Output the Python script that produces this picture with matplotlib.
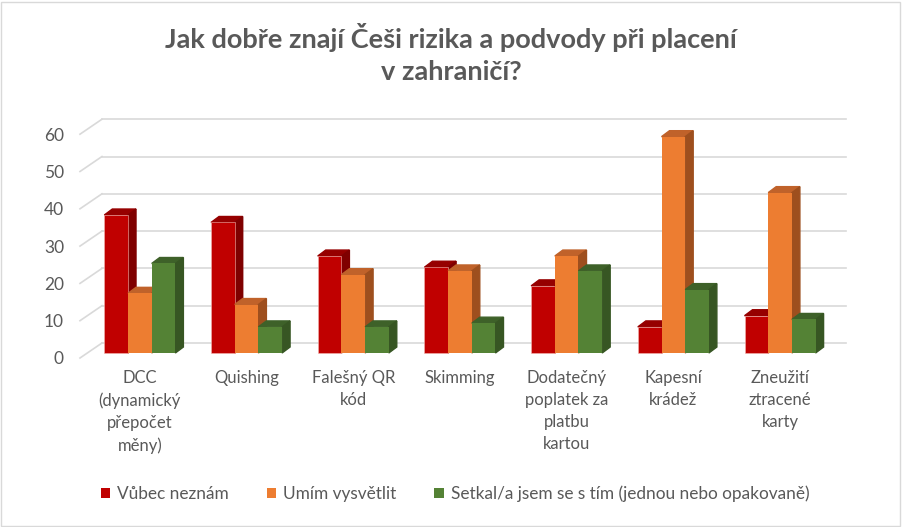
import matplotlib.pyplot as plt
from matplotlib.patches import Polygon, Patch, Rectangle

categories = ["DCC\n(dynamický\npřepočet\nměny)", "Quishing", "Falešný QR\nkód", "Skimming",
              "Dodatečný\npoplatek za\nplatbu\nkartou", "Kapesní\nkrádež", "Zneužití\nztracené\nkarty"]
series_names = ["Vůbec neznám", "Umím vysvětlit",
                "Setkal/a jsem se s tím (jednou nebo opakovaně)"]
vubec = [37, 35, 26, 23, 18, 7, 10]
umim = [16, 13, 21, 22, 26, 58, 43]
setkal = [24, 7, 7, 8, 22, 17, 9]
yticks = [0, 10, 20, 30, 40, 50, 60]
title = "Jak dobře znají Češi rizika a podvody při placení\nv zahraničí?"

front_c = ["#C00000", "#ED7D31", "#548235"]
top_c = ["#960000", "#C0622A", "#3E6129"]
side_c = ["#7F0000", "#9E4F1E", "#375623"]

plt.rcParams['font.family'] = ['Lato', 'DejaVu Sans']
txt_col = "#595959"

fig = plt.figure(figsize=(9.02, 5.27), dpi=100)
ax = fig.add_axes([86.5 / 902, (527 - 353) / 527, 746.9 / 902, 223.8 / 527])
ax.set_xlim(0, 7)
ax.set_ylim(0, 60)
ax.axis('off')

# fake 3d offsets (data units)
bx, by = 0.145, 2.68     # back wall
fx, fy = -0.061, -1.34   # front floor edge
ddx, ddy = 0.075, 1.6    # bar depth
w = 0.222

for v in yticks:
    ax.plot([fx, bx], [v + fy, v + by], color="#D9D9D9", lw=1.2, clip_on=False, zorder=1)
    ax.plot([bx, 7.118], [v + by, v + by], color="#D9D9D9", lw=1.2, clip_on=False, zorder=1)
    ax.text(fx - 0.15, v + fy, str(v), ha='right', va='center_baseline', fontsize=12.5, color=txt_col)

series = [vubec, umim, setkal]
for i in range(len(categories)):
    for k, vals in enumerate(series):
        x0 = i + 0.5 + (k - 1.5) * w
        h = vals[i]
        z = 10 + i * 10 + k * 3
        ax.bar(x0, h, width=w, align='edge', color=front_c[k], edgecolor="#F4B6B0" if k == 0 else "none",
               linewidth=0.4, zorder=z + 2, clip_on=False)
        ax.add_patch(Polygon([(x0, h), (x0 + w, h), (x0 + w + ddx, h + ddy), (x0 + ddx, h + ddy)],
                             closed=True, color=top_c[k], zorder=z, clip_on=False))
        ax.add_patch(Polygon([(x0 + w, 0), (x0 + w + ddx, ddy), (x0 + w + ddx, h + ddy), (x0 + w, h)],
                             closed=True, color=side_c[k], zorder=z + 1, clip_on=False))
    ax.text(i + 0.5, -4.6, categories[i], ha='center', va='top', fontsize=12,
            color=txt_col, linespacing=1.47)

fig.text(0.5, 1 - 23 / 527, title, ha='center', va='top', fontsize=19.5, fontweight='bold',
         color=txt_col, linespacing=1.42)

handles = [Patch(facecolor=c, edgecolor='none') for c in front_c]
fig.legend(handles, series_names, loc='center', bbox_to_anchor=(455 / 902, 1 - 494 / 527), ncol=3,
           frameon=False, fontsize=12.4, handlelength=0.55, handleheight=0.55, handletextpad=0.4,
           columnspacing=2.2, labelcolor=txt_col)

fig.patches.append(Rectangle((0.001, 0.002), 0.997, 0.995, transform=fig.transFigure,
                             fill=False, edgecolor="#D9D9D9", lw=1))

fig.savefig("out.png", dpi=100)
